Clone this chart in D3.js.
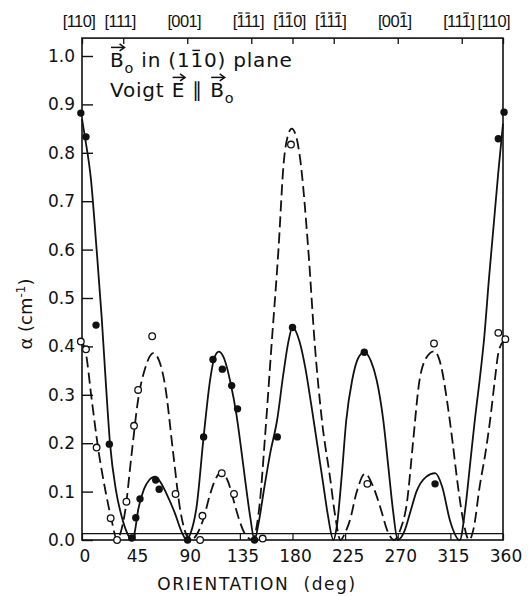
<!DOCTYPE html>
<html><head><meta charset="utf-8">
<script src="https://cdn.jsdelivr.net/npm/d3@7"></script>
<style>
body{margin:0;background:#fff}
text{font-family:"DejaVu Sans",sans-serif;fill:#111}
</style>
</head><body>
<svg id="c" width="528" height="596"></svg>
<script>
// ---------- data ----------
const xTicks = [0,45,90,135,180,225,270,315,360];
const yTicks = [0,0.1,0.2,0.3,0.4,0.5,0.6,0.7,0.8,0.9,1.0];
const directionDeg = [0,35.26,90,144.74,180,215.26,270,324.74,360];
const directionLabels = ["110","111","001","~1~11","~1~10","~1~1~1","00~1","11~1","110"]; // "~" = overbar on next digit

// filled circles (solid curve series), [deg, alpha]
const filledPts = [[-1,0.882],[3.4,0.833],[12,0.444],[23.4,0.198],[42.5,0.004],[46,0.046],[49.6,0.085],
  [63,0.124],[66,0.105],[90.3,0],[104,0.213],[112,0.373],[120,0.353],[128,0.319],[133,0.271],
  [147.5,0],[167,0.213],[180,0.439],[241.4,0.388],[301.9,0.116],[356,0.829],[360.9,0.884]];
// open circles (dashed curve series)
const openPts = [[-1,0.41],[3.4,0.394],[12.5,0.191],[24.5,0.045],[30,0],[38,0.079],[44.5,0.236],
  [48,0.31],[60,0.421],[80,0.095],[101,0],[103,0.05],[119.5,0.138],[130,0.095],[154.5,0.003],
  [178.7,0.817],[244,0.116],[301,0.406],[356,0.428],[362,0.415]];

// solid theoretical curve
const solidCurve = [[0,0.87],[2,0.84],[7.7,0.744],[12.5,0.60],[16.8,0.461],[20.5,0.32],[24,0.198],[29,0.103],[34,0.048],[38.5,0.015],[42.5,0],
  [45,0.015],[48,0.062],[53,0.105],[57.5,0.124],[62.5,0.131],[67,0.12],[72,0.097],[79.5,0.055],[85,0.018],[89.5,0],
  [93,0.015],[98,0.069],[104,0.213],[109.5,0.33],[113,0.375],[117,0.389],[122,0.372],[127,0.325],[132,0.26],[136,0.19],[140,0.115],[144,0.045],[147.5,0],
  [151,0.035],[156,0.11],[161,0.18],[167,0.25],[172,0.34],[176.5,0.41],[180,0.44],[186,0.41],[191,0.355],[196,0.28],[201,0.2],[206,0.12],[210,0.055],[215,0],
  [218,0.03],[222,0.13],[226,0.248],[231,0.33],[236,0.375],[241.4,0.388],[247,0.37],[252,0.33],[257.6,0.248],[262,0.15],[266,0.06],[270,0],
  [276,0.02],[281,0.06],[286,0.1],[294,0.13],[302,0.138],[308,0.11],[314.7,0.04],[323,0],
  [328,0.07],[332,0.16],[336,0.25],[340,0.33],[344,0.42],[348,0.54],[352,0.65],[356,0.76],[360,0.86]];

// dashed theoretical curve
const dashedCurve = [[0,0.41],[3,0.39],[8.3,0.29],[14,0.186],[20.5,0.096],[25.4,0.04],[30,0],
  [33,0.015],[36.8,0.058],[42.5,0.179],[48,0.29],[54,0.355],[61,0.386],[66,0.37],[71,0.32],[78,0.179],[83.8,0.065],[89,0.012],[93,0],
  [99,0.015],[104,0.045],[109,0.09],[114,0.125],[119.5,0.14],[125,0.12],[129.5,0.083],[134,0.045],[140,0.01],[146,0],
  [149.5,0.03],[152,0.076],[156.5,0.213],[162,0.40],[168,0.60],[172.5,0.78],[176,0.835],[179.3,0.85],[183,0.835],[186.4,0.79],[193.5,0.60],[199,0.406],[205.5,0.24],[212,0.131],[216.5,0.05],[221,0],
  [225,0.015],[229,0.04],[235,0.1],[242,0.137],[249,0.11],[256,0.06],[261,0.02],[267,0],
  [272,0.02],[278,0.08],[283,0.2],[288,0.32],[294,0.375],[301,0.39],[307,0.36],[312,0.29],[317,0.2],[321,0.12],[326,0.04],[331,0],
  [335,0.025],[340,0.11],[345,0.18],[349,0.248],[353,0.33],[356,0.386],[360,0.41]];

const baselineLevel = 0.013;

// ---------- drawing ----------
const svg = d3.select("#c");
const x = d3.scaleLinear().domain([0,360]).range([82,503]);
const y = d3.scaleLinear().domain([0,1]).range([540,56]);
const topVal = 1.037;

// frame
svg.append("rect").attr("x",x(0)).attr("y",y(topVal)).attr("width",x(360)-x(0)).attr("height",y(0)-y(topVal))
  .attr("fill","none").attr("stroke","#111").attr("stroke-width",1.6);
// baseline thin line
svg.append("line").attr("x1",x(0)).attr("x2",x(360)).attr("y1",y(baselineLevel)).attr("y2",y(baselineLevel))
  .attr("stroke","#111").attr("stroke-width",1.2);

// y axis (ticks inward)
const yAxis = d3.axisRight(y).tickValues(yTicks).tickSize(11).tickFormat("");
const gy = svg.append("g").attr("transform",`translate(${x(0)},0)`).call(yAxis);
gy.select(".domain").remove();
gy.selectAll("line").attr("stroke","#111").attr("stroke-width",1.4);
svg.append("g").selectAll("text").data(yTicks).join("text")
  .attr("x",75).attr("y",d=>y(d)+6).attr("text-anchor","end").attr("font-size",17)
  .text(d=>d.toFixed(1));

// x axis ticks (inward, between baseline and bottom)
const xAxis = d3.axisTop(x).tickValues(xTicks).tickSize(y(0)-y(baselineLevel)).tickFormat("");
const gx = svg.append("g").attr("transform",`translate(0,${y(0)})`).call(xAxis);
gx.select(".domain").remove();
gx.selectAll("line").attr("stroke","#111").attr("stroke-width",1.2);
svg.append("g").selectAll("text").data(xTicks).join("text")
  .attr("x",d=>x(d)+3).attr("y",562).attr("text-anchor","middle").attr("font-size",17)
  .text(d=>d);

// top direction ticks
const gt = svg.append("g").attr("transform",`translate(0,${y(topVal)})`)
  .call(d3.axisBottom(x).tickValues(directionDeg).tickSize(6).tickFormat(""));
gt.select(".domain").remove();
gt.selectAll("line").attr("stroke","#111").attr("stroke-width",1.3);

// direction labels with overbars (bars drawn as lines above the glyphs)
directionLabels.forEach((lab,i)=>{
  let plain="[", bars=[];
  for(let k=0;k<lab.length;k++){
    if(lab[k]==="~"){ k++; bars.push(plain.length); }
    plain+=lab[k];
  }
  plain+="]";
  const last = i===directionLabels.length-1;
  const t = svg.append("text").attr("y",27).attr("font-size",16.5)
    .style("font-family","'Liberation Sans',sans-serif").attr("letter-spacing",-0.6)
    .attr("text-anchor", last ? "end" : "middle")
    .attr("x", last ? 510 : x(directionDeg[i])-3)
    .text(plain);
  bars.forEach(ci=>{
    const e=t.node().getExtentOfChar(ci);
    svg.append("line").attr("x1",e.x+1.5).attr("x2",e.x+e.width-1.5).attr("y1",13).attr("y2",13)
      .attr("stroke","#111").attr("stroke-width",1.2);
  });
});

// curves
const line = d3.line().x(d=>x(d[0])).y(d=>y(d[1])).curve(d3.curveMonotoneX);
svg.append("path").attr("d",line(solidCurve)).attr("fill","none").attr("stroke","#111").attr("stroke-width",1.8);
svg.append("path").attr("d",line(dashedCurve)).attr("fill","none").attr("stroke","#111").attr("stroke-width",1.8)
  .attr("stroke-dasharray","11,5");

// points
svg.append("g").selectAll("circle").data(openPts).join("circle")
  .attr("cx",d=>x(d[0])).attr("cy",d=>y(d[1])).attr("r",3.3)
  .attr("fill","#fff").attr("stroke","#111").attr("stroke-width",1.3);
svg.append("g").selectAll("circle").data(filledPts).join("circle")
  .attr("cx",d=>x(d[0])).attr("cy",d=>y(d[1])).attr("r",3.7).attr("fill","#111");

// rich legend text
function rich(x0,y0,parts,fs,ls){
  let cx=x0;
  parts.forEach(p=>{
    const sub=!!p.sub;
    const t=svg.append("text").attr("x",cx).attr("y",y0+(sub?6:0)).attr("font-size",sub?fs*0.72:fs)
      .attr("letter-spacing",ls).text(p.t);
    const w=t.node().getComputedTextLength();
    const cap=fs*0.73;
    if(p.arrow){
      const ay=y0-cap-5;
      svg.append("line").attr("x1",cx+1).attr("x2",cx+w-1).attr("y1",ay).attr("y2",ay).attr("stroke","#111").attr("stroke-width",1.5);
      svg.append("path").attr("d",`M${cx+w-5},${ay-3.5} L${cx+w},${ay} L${cx+w-5},${ay+3.5}`).attr("fill","none").attr("stroke","#111").attr("stroke-width",1.5);
    }
    if(p.bar){
      const by=y0-cap-2;
      svg.append("line").attr("x1",cx+2).attr("x2",cx+w-4).attr("y1",by).attr("y2",by).attr("stroke","#111").attr("stroke-width",1.4);
    }
    cx+=w;
  });
}
rich(110,67,[{t:"B",arrow:true},{t:"o",sub:true},{t:"\u00A0in (1"},{t:"1",bar:true},{t:"0) plane"}],20,0.8);
rich(110,97,[{t:"Voigt\u00A0"},{t:"E",arrow:true},{t:"\u00A0\u2225\u00A0"},{t:"B",arrow:true},{t:"o",sub:true}],20,0.8);

// axis titles
const yt = svg.append("text").attr("transform","translate(32,314) rotate(-90)").attr("text-anchor","middle").attr("font-size",18);
yt.append("tspan").text("α (cm");
yt.append("tspan").attr("font-size",12).attr("dy",-7).text("-1");
yt.append("tspan").attr("dy",7).text(")");
svg.append("text").attr("x",257).attr("y",590).attr("text-anchor","middle").attr("font-size",17)
  .attr("letter-spacing",1.6).text("ORIENTATION\u00A0\u00A0(deg)");
</script>
</body></html>
